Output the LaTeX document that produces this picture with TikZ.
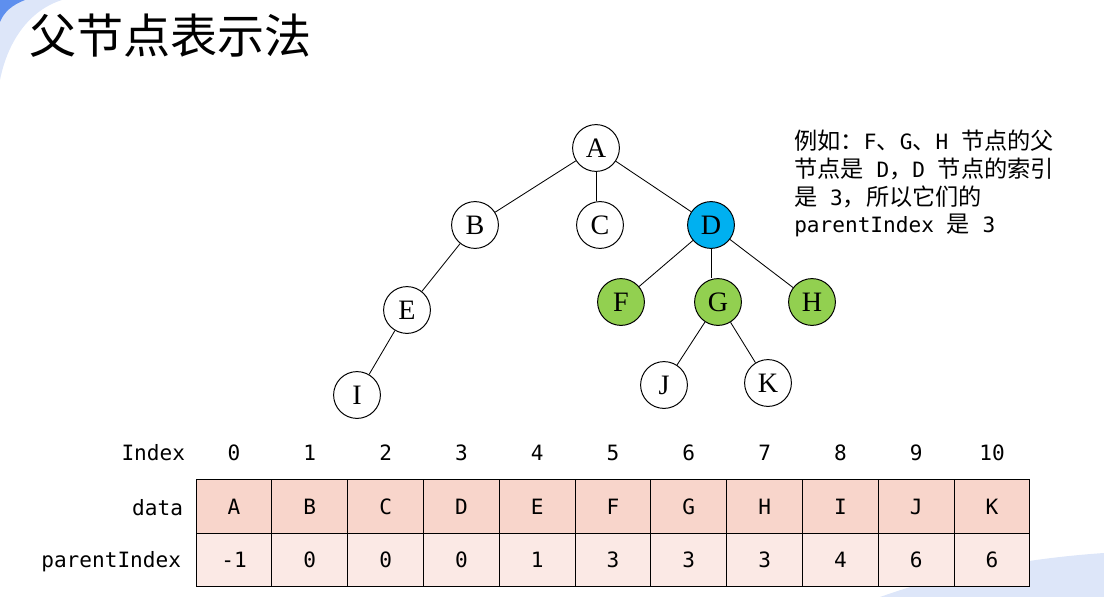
\documentclass[tikz,border=0pt]{standalone}
\usepackage{fontspec}
\setmainfont{Liberation Serif}
\newfontfamily\cjk{Noto Sans CJK SC}
\newfontfamily\mono{DejaVu Sans Mono}
\newcommand{\zh}[1]{{\cjk\fontsize{16.5}{19.7}\selectfont #1}}
\definecolor{dblue}{HTML}{00B0F0}
\definecolor{lgreen}{HTML}{92D050}
\definecolor{datafill}{HTML}{F8D5CB}
\definecolor{parfill}{HTML}{FBE9E5}
\definecolor{lblue}{HTML}{DDE6F9}
\definecolor{mblue}{HTML}{5E8FEE}
\begin{document}
\begin{tikzpicture}[x=0.025cm,y=-0.025cm,
	tnode/.style={circle,draw,line width=0.7pt,minimum size=1.17cm,inner sep=0pt,font=\fontsize{20}{20}\selectfont},
	cell/.style={draw,line width=0.8pt,minimum width=1.895cm,minimum height=1.345cm,inner sep=0pt,font=\mono\fontsize{15}{15}\selectfont},
	lbl/.style={font=\mono\fontsize{15}{15}\selectfont}]
		\useasboundingbox (0,0) rectangle (1104,597);
		\fill[lblue] (0,0) -- (62,0) .. controls (30,10) and (8,40) .. (0,80) -- cycle;
		\fill[mblue] (0,0) -- (25,0) .. controls (12,5) and (4,12) .. (0,22) -- cycle;
		\fill[lblue] (880,597) .. controls (950,572) and (1030,558) .. (1104,553) -- (1104,597) -- cycle;
		\node[anchor=west,inner sep=0pt,font=\cjk\fontsize{33.5}{33.5}\selectfont] (title) at (29,36) {父节点表示法};
		\node[tnode] (A) at (596,148) {A};
		\node[tnode] (B) at (475,225) {B};
		\node[tnode] (C) at (600,225) {C};
		\node[tnode,fill=dblue] (D) at (711,225) {D};
		\node[tnode] (E) at (407,310) {E};
		\node[tnode,fill=lgreen] (F) at (621,302) {F};
		\node[tnode,fill=lgreen] (G) at (718,302) {G};
		\node[tnode,fill=lgreen] (H) at (812,302) {H};
		\node[tnode] (I) at (357,395) {I};
		\node[tnode] (J) at (664,385) {J};
		\node[tnode] (K) at (768,383) {K};
		\foreach \a/\b in {A/B,A/D,B/E,E/I,D/F,D/H,G/J,G/K}
			\draw[line width=0.6pt] (\a) -- (\b);
		\draw[line width=0.6pt] (A.south) -- (A.south |- C.north);
		\draw[line width=0.6pt] (D.south) -- (D.south |- G.north);
		\node[anchor=north west,align=left,inner sep=0pt,font=\mono\fontsize{15}{19.7}\selectfont] (note) at (794,130)
			{\zh{例如：}F\zh{、}G\zh{、}H \zh{节点的父}\\
			 \zh{节点是} D\zh{，}D \zh{节点的索引}\\
			 \zh{是} 3\zh{，所以它们的}\\
			 parentIndex \zh{是} 3};
		\foreach \d/\p [count=\i from 0] in {A/-1,B/0,C/0,D/0,E/1,F/3,G/3,H/3,I/4,J/6,K/6}{
			\node[lbl] (n\i) at ({234+75.8*\i},453) {\i};
			\node[cell,fill=datafill] (d\i) at ({234+75.8*\i},506.5) {\d};
			\node[cell,fill=parfill] (p\i) at ({234+75.8*\i},560) {\p};
		}
		\node[lbl,anchor=east] (idx) at (190,453) {Index};
		\node[lbl,anchor=east] (dat) at (188,508) {data};
		\node[lbl,anchor=east] (par) at (186,562) {parentIndex};
\end{tikzpicture}
\end{document}
